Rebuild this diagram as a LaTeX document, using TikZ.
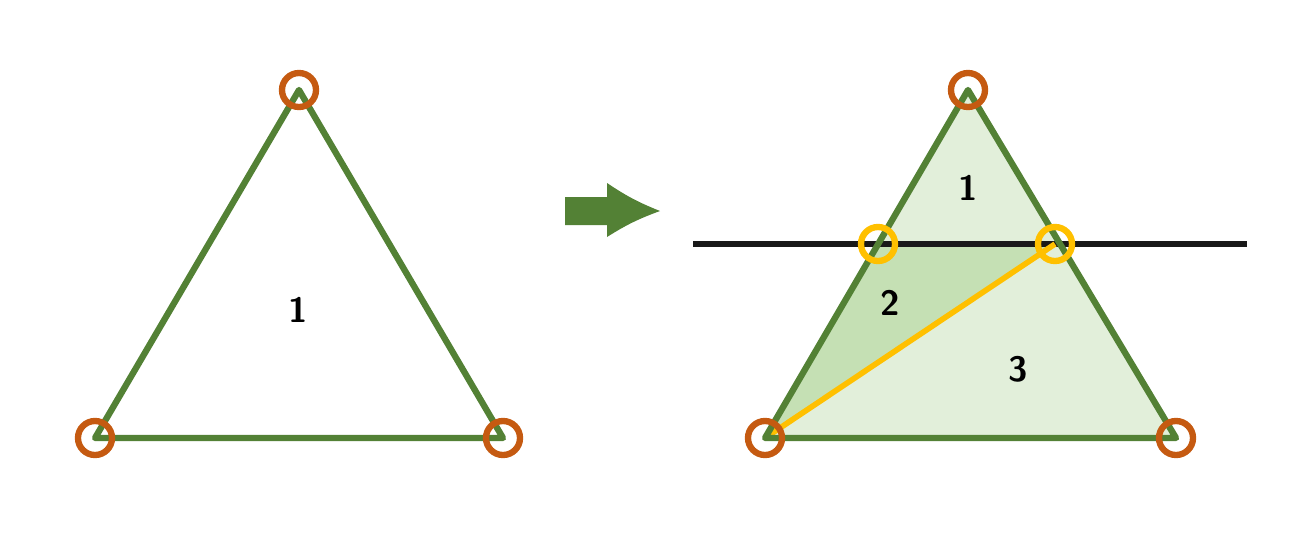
\documentclass[tikz,border=0pt]{standalone}
\usepackage{amssymb}
\usepackage{amsmath}
\usepackage{tikz}

\definecolor{edgegreen}{HTML}{538135}
\definecolor{lightfill}{HTML}{E2EFDA}
\definecolor{darkfill}{HTML}{C5E0B4}
\definecolor{vertorange}{HTML}{C55A11}
\definecolor{cutyellow}{HTML}{FFC000}

\tikzset{
  edge/.style={draw=edgegreen, line width=1.8pt, line join=round},
  vertmark/.style={circle, draw=vertorange, line width=1.8pt, minimum size=0.34cm, inner sep=0pt},
  cutmark/.style={circle, draw=cutyellow, line width=1.8pt, minimum size=0.34cm, inner sep=0pt},
  region/.style={font=\sffamily\bfseries}
}

\begin{document}
\begin{tikzpicture}[x=0.01cm, y=-0.01cm]
    \useasboundingbox (0,0) rectangle (1303,545);

    % left triangle
    \coordinate (la) at (299,90);
    \coordinate (lb) at (95,438);
    \coordinate (lc) at (503,438);
    \draw[edge] (la) -- (lb) -- (lc) -- cycle;
    \node (lr1) at (298,310) [region] {1};
    \node[vertmark] (lva) at (la) {};
    \node[vertmark] (lvb) at (lb) {};
    \node[vertmark] (lvc) at (lc) {};

    % arrow
    \fill[edgegreen] (565,197) -- (607,197) -- (607,183) to[bend right=6] (660,211)
        to[bend right=6] (607,237) -- (607,225) -- (565,225) -- cycle;

    % right triangle
    \coordinate (ra) at (968,90);
    \coordinate (rb) at (765,438);
    \coordinate (rc) at (1176,438);
    \coordinate (p) at (878,244);
    \coordinate (q) at (1055,244);
    \fill[lightfill] (ra) -- (rb) -- (rc) -- cycle;
    \fill[darkfill] (p) -- (q) -- (rb) -- cycle;
    \draw[line width=1.6pt, draw=black!90] (693,244) -- (1247,244);
    \draw[cutyellow, line width=1.6pt] (rb) -- (q);
    \draw[edge] (ra) -- (rb) -- (rc) -- cycle;
    \node (rr1) at (968,188) [region] {1};
    \node (rr2) at (890,303) [region] {2};
    \node (rr3) at (1018,369) [region] {3};
    \node[cutmark] (cp) at (p) {};
    \node[cutmark] (cq) at (q) {};
    \node[vertmark] (rva) at (ra) {};
    \node[vertmark] (rvb) at (rb) {};
    \node[vertmark] (rvc) at (rc) {};
\end{tikzpicture}
\end{document}
